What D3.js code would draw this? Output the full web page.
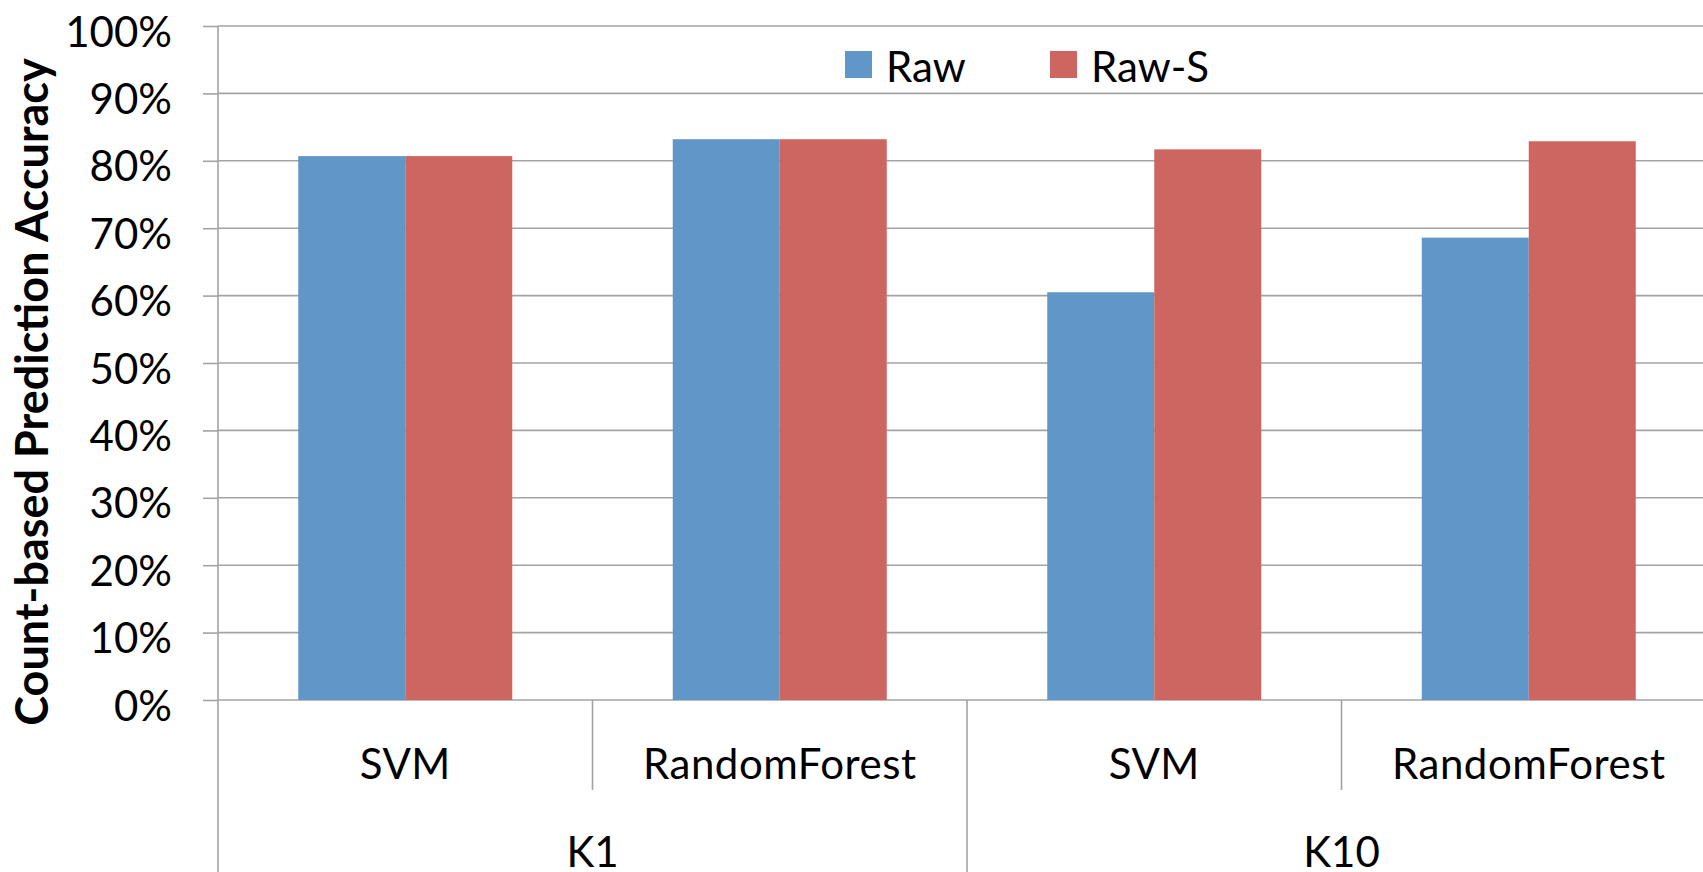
<!DOCTYPE html>
<html>
<head>
<meta charset="utf-8">
<script src="https://cdn.jsdelivr.net/npm/d3@7"></script>
<style>
  html, body { margin: 0; padding: 0; background: #fff; overflow: hidden; }
  svg { display: block; }
  text { font-family: Lato, "Liberation Sans", sans-serif; fill: #000; }
</style>
</head>
<body>
<svg id="chart" width="1703" height="872"></svg>
<script>
// Categories: classifier within each K setting
const categories = ["SVM", "RandomForest", "SVM", "RandomForest"];
const categoryGroup = ["K1", "K1", "K10", "K10"];
const groups = ["K1", "K10"];

// Series
const seriesNames = ["Raw", "Raw-S"];
const seriesColors = ["#6196c9", "#cd6660"];
const rawValues = [0.807, 0.832, 0.605, 0.686];
const rawSValues = [0.807, 0.832, 0.817, 0.829];

// Y axis ticks
const yTicks = [0, 0.1, 0.2, 0.3, 0.4, 0.5, 0.6, 0.7, 0.8, 0.9, 1.0];
const yTitle = "Count-based Prediction Accuracy";

const svg = d3.select("#chart");
const W = 1703, H = 872;
const plot = { left: 218, right: 1716, top: 26, bottom: 700 };
const gridColor = "#a3a3a3";
const fontSize = 42;

const keys = categories.map((_, i) => String(i));
const x = d3.scaleBand().domain(keys).range([plot.left, plot.right]).paddingInner(0).paddingOuter(0);
const x1 = d3.scaleBand().domain(seriesNames).range([0, x.bandwidth()]).paddingInner(0).paddingOuter(0.75);
const y = d3.scaleLinear().domain([0, 1]).range([plot.bottom, plot.top]);

// Horizontal gridlines
svg.append("g").selectAll("line").data(yTicks).join("line")
  .attr("x1", plot.left).attr("x2", plot.right)
  .attr("y1", d => y(d)).attr("y2", d => y(d))
  .attr("stroke", gridColor).attr("stroke-width", 1.6);

// Bars
const rows = categories.map((c, i) => ({ key: String(i), values: [rawValues[i], rawSValues[i]] }));
const barG = svg.append("g");
rows.forEach(r => {
  barG.selectAll(null).data(seriesNames.map((s, j) => ({ s, j, v: r.values[j] }))).join("rect")
    .attr("x", d => x(r.key) + x1(d.s))
    .attr("width", x1.bandwidth())
    .attr("y", d => y(d.v))
    .attr("height", d => y(0) - y(d.v))
    .attr("fill", d => seriesColors[d.j]);
});

// Y axis with tick marks and percent labels
const yAxis = d3.axisLeft(y).tickValues(yTicks).tickFormat(d3.format(".0%"))
  .tickSize(15).tickPadding(31);
const yg = svg.append("g").attr("transform", `translate(${plot.left},0)`).call(yAxis);
yg.select(".domain").remove();
yg.selectAll(".tick line").attr("stroke", gridColor).attr("stroke-width", 1.6);
yg.selectAll(".tick text")
  .attr("dy", null).attr("y", 20)
  .style("font-family", "Lato, 'Liberation Sans', sans-serif")
  .style("font-size", fontSize + "px").attr("fill", "#000");

// Vertical axis line, extended through the category label rows
svg.append("line")
  .attr("x1", plot.left).attr("x2", plot.left)
  .attr("y1", plot.top).attr("y2", H)
  .attr("stroke", gridColor).attr("stroke-width", 1.6);

// Category separators: short within a group, long between groups
const subRowBottom = 790;
keys.slice(1).forEach((k, idx) => {
  const i = idx + 1;
  const betweenGroups = categoryGroup[i] !== categoryGroup[i - 1];
  svg.append("line")
    .attr("x1", x(k)).attr("x2", x(k))
    .attr("y1", plot.bottom).attr("y2", betweenGroups ? H : subRowBottom)
    .attr("stroke", gridColor).attr("stroke-width", 1.6);
});

// Category labels
svg.append("g").selectAll("text").data(keys).join("text")
  .attr("x", k => x(k) + x.bandwidth() / 2)
  .attr("y", 779)
  .attr("text-anchor", "middle")
  .style("font-size", fontSize + "px")
  .style("letter-spacing", "0.5px")
  .text((k, i) => categories[i]);

// Group labels centred under their categories
svg.append("g").selectAll("text").data(groups).join("text")
  .attr("x", g => {
    const ks = keys.filter((k, i) => categoryGroup[i] === g);
    return (x(ks[0]) + x(ks[ks.length - 1]) + x.bandwidth()) / 2;
  })
  .attr("y", 867)
  .attr("text-anchor", "middle")
  .style("font-size", fontSize + "px")
  .text(g => g);

// Y axis title
svg.append("text")
  .attr("transform", "translate(48,392) rotate(-90)")
  .attr("text-anchor", "middle")
  .style("font-size", "45px")
  .style("font-weight", "bold")
  .text(yTitle);

// Legend
const legendX = [845, 1050];
const legend = svg.append("g").selectAll("g").data(seriesNames).join("g")
  .attr("transform", (d, i) => `translate(${legendX[i]},51)`);
legend.append("rect").attr("width", 27).attr("height", 27)
  .attr("fill", (d, i) => seriesColors[i]);
legend.append("text").attr("x", 41).attr("y", 31)
  .style("font-size", fontSize + "px")
  .text(d => d);
</script>
</body>
</html>
